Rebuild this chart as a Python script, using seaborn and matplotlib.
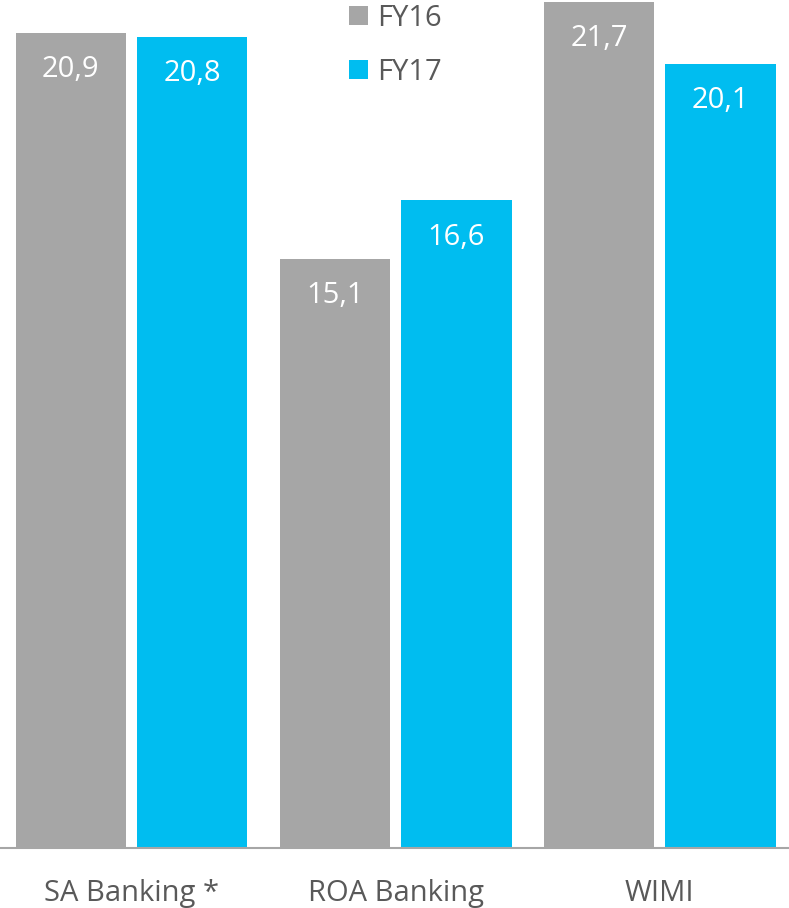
import pandas as pd
import seaborn as sns
import matplotlib.pyplot as plt

categories = ["SA Banking *", "ROA Banking", "WIMI"]
fy16 = [20.9, 15.1, 21.7]
fy17 = [20.8, 16.6, 20.1]
years = ["FY16", "FY17"]

df = pd.DataFrame({
    "segment": categories * 2,
    "year": ["FY16"] * 3 + ["FY17"] * 3,
    "value": fy16 + fy17,
})

sns.set_theme(style="white")
plt.rcParams['font.family'] = ['Open Sans', 'DejaVu Sans']
txt = "#595959"

fig = plt.figure(figsize=(7.89, 9.08), dpi=100)
ax = fig.add_axes([0, 60 / 908, 1, 848 / 908])

sns.barplot(data=df, x="segment", y="value", hue="year", hue_order=years,
            palette=["#A6A6A6", "#00BDF0"], width=0.92, gap=0.09,
            saturation=1, linewidth=0, ax=ax)

for cont, vals in zip(ax.containers, [fy16, fy17]):
    labs = [f"{v:.1f}".replace(".", ",") for v in vals]
    ax.bar_label(cont, labels=labs, padding=-37, color="white", fontsize=21)

ax.set_xlim(-0.498, 2.49)
ax.set_ylim(0, 21.74)
ax.set_xlabel("")
ax.set_ylabel("")
ax.set_yticks([])
ax.tick_params(axis="x", length=0, pad=22, labelsize=21, labelcolor=txt)
for s in ["top", "left", "right"]:
    ax.spines[s].set_visible(False)
ax.spines["bottom"].set_color("#A6A6A6")
ax.spines["bottom"].set_linewidth(1.5)

ax.legend_.remove()
handles, labels = ax.get_legend_handles_labels()
fig.legend(handles, labels, loc="upper left", bbox_to_anchor=(349 / 789, 1 - 4 / 908),
           frameon=False, fontsize=21, labelcolor=txt, borderpad=0, borderaxespad=0,
           handlelength=0.65, handleheight=0.65, handletextpad=0.3, labelspacing=0.85)

fig.savefig("out.png", dpi=100)
